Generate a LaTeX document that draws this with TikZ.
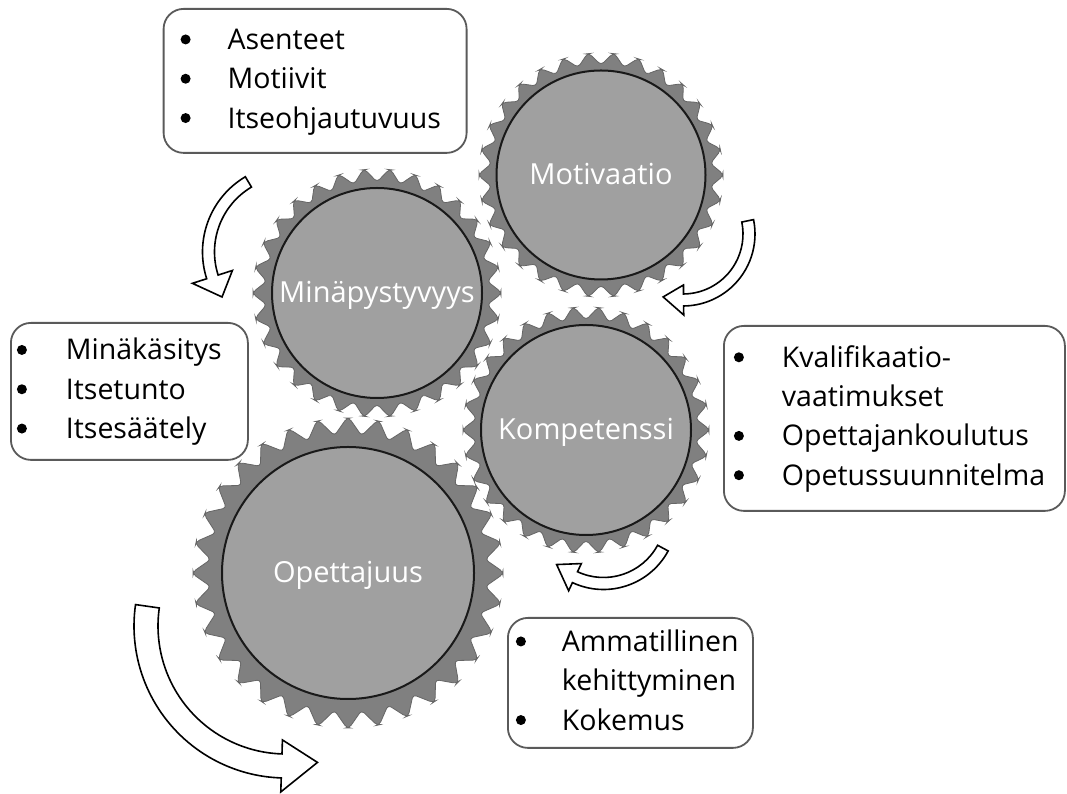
\documentclass[tikz,border=0pt]{standalone}
\usepackage{fontspec}
\setmainfont{Open Sans}
\usetikzlibrary{positioning,backgrounds}
\definecolor{ringgray}{HTML}{808080}
\definecolor{hubgray}{HTML}{A0A0A0}
\definecolor{boxgray}{HTML}{5A5A5A}

% toothed ring round a hub: centre, teeth, root radius, tip radius
\newcommand{\gearring}[4]{%
  \pgfmathsetmacro{\gearStep}{360/#2}
  \begin{scope}[shift={(#1)}]
    \draw[ringstyle] (0:#4) \foreach \k in {0,...,\numexpr#2-1\relax}{
      -- ({(\k+0.04)*\gearStep}:#4) -- ({(\k+0.5)*\gearStep}:#3) -- ({(\k+0.96)*\gearStep}:#4)} -- cycle;
  \end{scope}}

% curved block arrow: centre, radius, start, end, tip angle, half band, half head
\newcommand{\turnarrow}[7]{%
  \begin{scope}[shift={(#1)}]
    \pgfmathsetmacro{\arrOut}{#2+#6}\pgfmathsetmacro{\arrIn}{#2-#6}
    \pgfmathsetmacro{\headOut}{#2+#7}\pgfmathsetmacro{\headIn}{#2-#7}
    \draw[turnstyle] (#3:\arrOut) arc[start angle=#3, end angle=#4, radius=\arrOut]
      -- (#4:\headOut) -- (#5:#2) -- (#4:\headIn) -- (#4:\arrIn)
      arc[start angle=#4, end angle=#3, radius=\arrIn] -- cycle;
  \end{scope}}

\newcommand{\listdot}{\tikz[baseline=-10pt]\fill (0pt,0pt) circle (5pt);}

\begin{document}
\begin{tikzpicture}[x=1pt,y=1pt,
  hub/.style={circle,draw=black!90,line width=2pt,fill=hubgray,text=white,
    font=\fontsize{29}{34}\selectfont,text height=20pt,text depth=0pt,inner sep=0pt},
  ringstyle/.style={fill=ringgray,draw=black!60,line width=0.8pt,rounded corners=3.5pt},
  infobox/.style={draw=boxgray,line width=1.8pt,rounded corners=20pt,fill=white,
    align=left,inner ysep=0pt,anchor=north west,font=\fontsize{28.5}{39.3}\selectfont},
  turnstyle/.style={draw=black,fill=white,line width=1.6pt,line join=miter}]
  \useasboundingbox (0,0) rectangle (1067,794);

  % gears
  \node[hub,minimum size=209] (motivaatio)    at (601,619) {Motivaatio};
  \node[hub,minimum size=210] (minapystyvyys) at (377,501) {Minäpystyvyys};
  \node[hub,minimum size=210] (kompetenssi)   at (586,364) {Kompetenssi};
  \node[hub,minimum size=252] (opettajuus)    at (348,221) {Opettajuus};
  \begin{scope}[on background layer]
    \gearring{motivaatio.center}{30}{110}{122}
    \gearring{minapystyvyys.center}{30}{111}{124}
    \gearring{kompetenssi.center}{30}{110}{123}
    \gearring{opettajuus.center}{32}{138}{155}
  \end{scope}

  % lists
  \node[infobox,minimum width=303,minimum height=144,text width=269,inner xsep=17] (asenteet) at (162.7,786)
    {\begin{tabular}{@{}p{47pt}@{}l@{}}\listdot & Asenteet\\ \listdot & Motiivit\\ \listdot & Itseohjautuvuus\end{tabular}};
  \node[infobox,minimum width=237,minimum height=137,text width=225,inner xsep=6] (minakasitys) at (10,472)
    {\begin{tabular}{@{}p{49pt}@{}l@{}}\listdot & Minäkäsitys\\ \listdot & Itsetunto\\ \listdot & Itsesäätely\end{tabular}};
  \node[infobox,minimum width=341,minimum height=185,text width=321,inner xsep=10] (kvalifikaatio) at (723,469)
    {\begin{tabular}{@{}p{48pt}@{}l@{}}\listdot & Kvalifikaatio-\\ & vaatimukset\\ \listdot & Opettajankoulutus\\ \listdot & Opetussuunnitelma\end{tabular}};
  \node[infobox,minimum width=245,minimum height=130,text width=229,inner xsep=8] (ammatillinen) at (507,177)
    {\begin{tabular}{@{}p{46pt}@{}l@{}}\listdot & Ammatillinen\\ & kehittyminen\\ \listdot & Kokemus\end{tabular}};

  % turning arrows
  \coordinate (kierto1) at (290,542);
  \coordinate (kierto2) at (683,560);
  \coordinate (kierto3) at (603.5,278);
  \coordinate (kierto4) at (286,168);
  \turnarrow{kierto1}{81.5}{120.7}{197.8}{213.5}{6}{21}
  \turnarrow{kierto2}{66}{11.5}{-89.5}{-107.5}{6}{15}
  \turnarrow{kierto3}{67.5}{-28.4}{-115}{-134}{6}{15}
  \turnarrow{kierto4}{140}{171.9}{268.2}{283}{12}{26}
\end{tikzpicture}
\end{document}
